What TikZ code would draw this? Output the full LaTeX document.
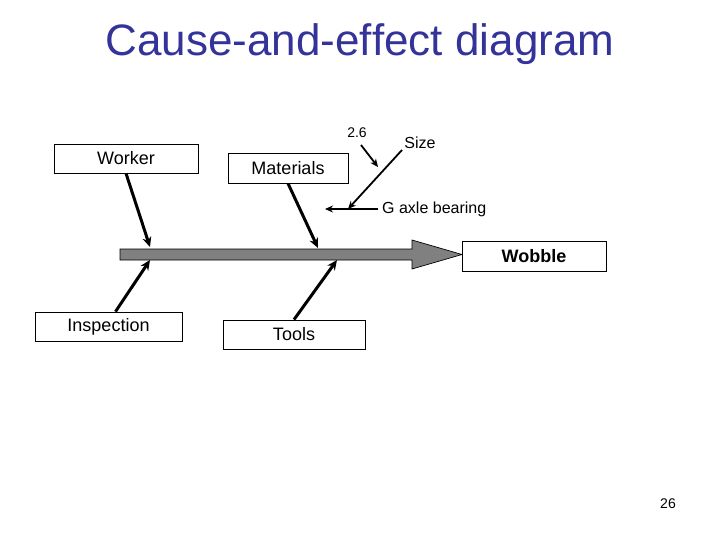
\documentclass[tikz,border=0pt]{standalone}
\usepackage{fontspec}
\setmainfont[Ligatures=NoCommon]{Liberation Sans}
\usetikzlibrary{arrows.meta}
\definecolor{titleblue}{HTML}{333399}
\definecolor{spinegray}{HTML}{808080}
\begin{document}
\begin{tikzpicture}[x=1pt,y=-1pt,
  causebox/.style={draw=black,line width=0.8pt,fill=white,inner sep=0pt,font=\fontsize{18}{20}\selectfont},
  bone/.style={line width=3pt,-{Stealth[length=10pt,width=9pt]}},
  subbone/.style={line width=1.8pt,-{Stealth[length=8pt,width=7pt]}},
  lbl/.style={inner sep=0pt,font=\fontsize{16}{18}\selectfont}]
\useasboundingbox (0,0) rectangle (720,540);
\node[text=titleblue,font=\fontsize{44}{48}\selectfont] (title) at (360,44) {Cause-and-ef\kern0pt fect diagram};
% spine
\filldraw[fill=spinegray,draw=black,line width=0.7pt] (120,249) -- (412,249) -- (412,240) -- (462,254.5) -- (412,269) -- (412,260) -- (120,260) -- cycle;
\node[causebox,minimum width=144pt,minimum height=30pt,font=\fontsize{18}{20}\selectfont\bfseries] (wobble) at (534,256) {Wobble};
\node[causebox,minimum width=144pt,minimum height=29pt] (worker) at (126,158.5) {Worker};
\node[causebox,minimum width=120pt,minimum height=30pt] (materials) at (288,168) {Materials};
\node[causebox,minimum width=147pt,minimum height=29pt] (inspection) at (108.5,326.5) {Inspection};
\node[causebox,minimum width=142pt,minimum height=29pt] (tools) at (294,334.5) {Tools};
\coordinate (workerend) at (150,247);
\coordinate (materialsend) at (318,248);
\coordinate (inspectionend) at (150,260);
\coordinate (toolsend) at (337,260);
\draw[bone] (worker.south) -- (workerend);
\draw[bone] (materials.south) -- (materialsend);
\draw[bone] ([xshift=7pt]inspection.north) -- (inspectionend);
\draw[bone] (tools.north) -- (toolsend);
% sub causes
\node[lbl,anchor=west] (gaxle) at (382,209) {G axle bearing};
\node[lbl] (size) at (420,143) {Size};
\node[inner sep=0pt,font=\fontsize{14}{16}\selectfont] (twosix) at (357,133) {2.6};
\coordinate (gaxleend) at (325,209);
\coordinate (sizeend) at (348,209);
\coordinate (sizestart) at (402,150);
\coordinate (twosixstart) at (361,145);
\coordinate (twosixend) at (378,167);
\draw[subbone] ([xshift=-4pt]gaxle.west) -- (gaxleend);
\draw[subbone] (sizestart) -- (sizeend);
\draw[subbone] (twosixstart) -- (twosixend);
\node[inner sep=0pt,font=\fontsize{14}{16}\selectfont] (pagenum) at (668,504) {26};
\end{tikzpicture}
\end{document}
